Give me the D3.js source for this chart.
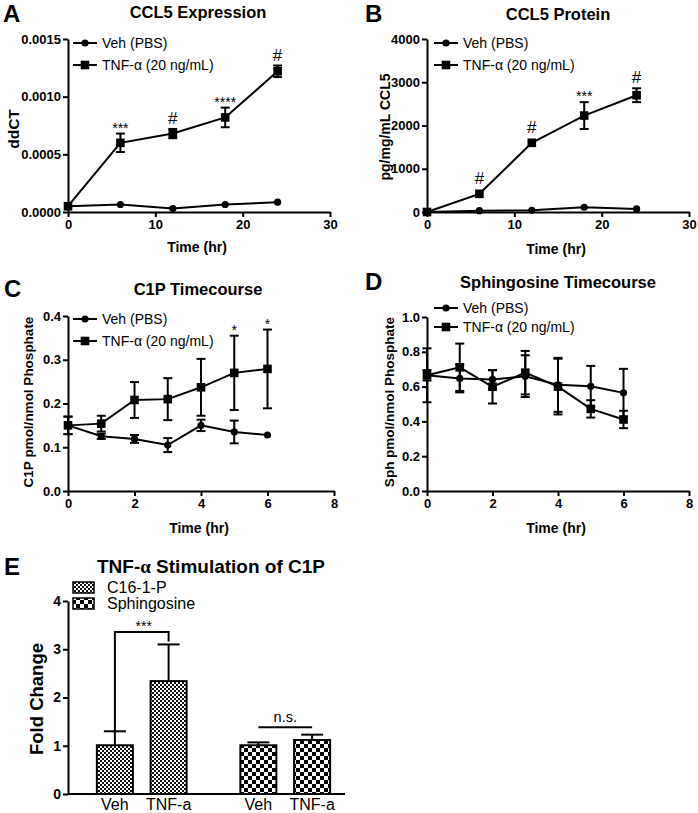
<!DOCTYPE html>
<html><head><meta charset="utf-8">
<script src="https://cdn.jsdelivr.net/npm/d3@7"></script>
<style>
body{margin:0;background:#fff;}
svg{display:block;font-family:"Liberation Sans",Arial,Helvetica,sans-serif;}
</style></head><body>
<svg id="chart" width="698" height="813"></svg>
<script>
// ---------------- DATA ----------------
const seriesNames = ["Veh (PBS)", "TNF-α (20 ng/mL)"];

// Panel A: CCL5 Expression (ddCT)
const timeAB = [0, 6, 12, 18, 24];
const exprVeh = [0.00005, 0.000065, 0.00003, 0.000065, 0.000085];
const exprVehErr = [0, 0, 0, 0, 0];
const exprTnf = [0.00005, 0.0006, 0.00068, 0.00082, 0.00122];
const exprTnfErr = [0, 0.00008, 0.00004, 0.000085, 0.00005];
const exprSig = ["", "***", "#", "****", "#"];
const exprYTicks = [0, 0.0005, 0.0010, 0.0015];
const abXTicks = [0, 10, 20, 30];

// Panel B: CCL5 Protein (pg/mg/mL)
const protVeh = [0, 30, 40, 110, 70];
const protVehErr = [0, 0, 0, 0, 0];
const protTnf = [0, 420, 1600, 2230, 2700];
const protTnfErr = [0, 0, 0, 310, 160];
const protSig = ["", "#", "#", "***", "#"];
const protYTicks = [0, 1000, 2000, 3000, 4000];

// Panel C: C1P timecourse
const timeCD = [0, 1, 2, 3, 4, 5, 6];
const c1pVeh = [0.15, 0.125, 0.119, 0.105, 0.15, 0.135, 0.128];
const c1pVehErr = [0.02, 0.006, 0.009, 0.016, 0.013, 0.026, 0];
const c1pTnf = [0.15, 0.154, 0.208, 0.21, 0.237, 0.27, 0.279];
const c1pTnfErr = [0.02, 0.018, 0.041, 0.048, 0.065, 0.085, 0.09];
const c1pSig = ["", "", "", "", "", "*", "*"];
const c1pYTicks = [0, 0.1, 0.2, 0.3, 0.4];
const cdXTicks = [0, 2, 4, 6, 8];

// Panel D: Sphingosine timecourse
const sphVeh = [0.665, 0.647, 0.641, 0.66, 0.61, 0.602, 0.564];
const sphVehErr = [0.03, 0.08, 0.053, 0.12, 0.155, 0.117, 0.138];
const sphTnf = [0.665, 0.711, 0.599, 0.68, 0.60, 0.472, 0.411];
const sphTnfErr = [0.155, 0.136, 0.096, 0.125, 0.16, 0.05, 0.05];
const sphSig = ["", "", "", "", "", "", ""];
const sphYTicks = [0, 0.2, 0.4, 0.6, 0.8, 1.0];

// Panel E: Fold change bars
const barGroups = ["C16-1-P", "Sphingosine"];
const barConds = ["Veh", "TNF-a"];
const foldC16 = [1.01, 2.34];
const foldC16Err = [0.29, 0.76];
const foldSph = [1.01, 1.12];
const foldSphErr = [0.06, 0.11];
const foldYTicks = [0, 1, 2, 3, 4];

// ---------------- DRAW ----------------
const svg = d3.select("#chart");
const defs = svg.append("defs");
const fine = defs.append("pattern").attr("id", "fine").attr("width", 4).attr("height", 4).attr("patternUnits", "userSpaceOnUse");
fine.append("rect").attr("width", 4).attr("height", 4).attr("fill", "#fff");
fine.append("rect").attr("width", 2).attr("height", 2).attr("fill", "#111");
fine.append("rect").attr("x", 2).attr("y", 2).attr("width", 2).attr("height", 2).attr("fill", "#111");
const coarse = defs.append("pattern").attr("id", "coarse").attr("width", 8).attr("height", 8).attr("patternUnits", "userSpaceOnUse");
coarse.append("rect").attr("width", 8).attr("height", 8).attr("fill", "#fff");
coarse.append("rect").attr("width", 4).attr("height", 4).attr("fill", "#000");
coarse.append("rect").attr("x", 4).attr("y", 4).attr("width", 4).attr("height", 4).attr("fill", "#000");

function styleAxis(g, fontSize) {
  g.select(".domain").attr("stroke", "#000").attr("stroke-width", 2);
  g.selectAll(".tick line").attr("stroke", "#000").attr("stroke-width", 2);
  g.selectAll(".tick text").attr("fill", "#000").attr("font-size", fontSize).attr("font-weight", "bold")
    .attr("font-family", "'Liberation Sans',Arial,sans-serif");
}

function panelLetter(txt, x, y) {
  svg.append("text").attr("x", x).attr("y", y).text(txt)
    .attr("font-size", 24).attr("font-weight", "bold");
}
function title(txt, x, y, size) {
  return svg.append("text").attr("x", x).attr("y", y).attr("text-anchor", "middle")
    .attr("font-size", size || 16.5).attr("font-weight", "bold").text(txt);
}
function yLabel(txt, x, y, size) {
  svg.append("text").attr("transform", `translate(${x},${y}) rotate(-90)`).attr("text-anchor", "middle")
    .attr("dy", "0.35em").attr("font-size", size).attr("font-weight", "bold").text(txt);
}

function drawLinePanel(o) {
  const x = d3.scaleLinear().domain(o.xDomain).range(o.xRange);
  const y = d3.scaleLinear().domain(o.yDomain).range(o.yRange);
  const g = svg.append("g");

  const xa = g.append("g").attr("transform", `translate(0,${o.yRange[0]})`)
    .call(d3.axisBottom(x).tickValues(o.xTicks).tickSize(5).tickSizeOuter(0).tickPadding(3).tickFormat(d3.format("d")));
  styleAxis(xa, 13);
  const ya = g.append("g").attr("transform", `translate(${o.xRange[0]},0)`)
    .call(d3.axisLeft(y).tickValues(o.yTicks).tickSize(5).tickSizeOuter(0).tickPadding(2).tickFormat(o.yFormat));
  styleAxis(ya, 13);

  const series = [
    {vals: o.veh, errs: o.vehErr, shape: "circle"},
    {vals: o.tnf, errs: o.tnfErr, shape: "square"}
  ];
  const line = d3.line().x((d) => x(d[0])).y((d) => y(d[1]));
  series.forEach((s) => {
    const pts = o.time.map((t, i) => [t, s.vals[i], s.errs[i]]);
    pts.filter((p) => p[2] > 0).forEach((p) => {
      const cx = x(p[0]), y1 = y(p[1] + p[2]), y2 = y(p[1] - p[2]);
      g.append("line").attr("x1", cx).attr("x2", cx).attr("y1", y1).attr("y2", y2).attr("stroke", "#000").attr("stroke-width", 2);
      [y1, y2].forEach((yy) => g.append("line").attr("x1", cx - 4.5).attr("x2", cx + 4.5).attr("y1", yy).attr("y2", yy).attr("stroke", "#000").attr("stroke-width", 2));
    });
    g.append("path").datum(pts).attr("d", line).attr("fill", "none").attr("stroke", "#000").attr("stroke-width", 2);
    pts.forEach((p) => {
      if (s.shape === "circle") g.append("circle").attr("cx", x(p[0])).attr("cy", y(p[1])).attr("r", 3.6).attr("fill", "#000");
      else g.append("rect").attr("x", x(p[0]) - 4.3).attr("y", y(p[1]) - 4.3).attr("width", 8.6).attr("height", 8.6).attr("fill", "#000");
    });
  });
  o.time.forEach((t, i) => {
    const s = o.sig[i];
    if (!s) return;
    const top = Math.min(y(o.tnf[i] + o.tnfErr[i]), y(o.tnf[i]) - 4.5);
    const isHash = s.indexOf("#") >= 0;
    g.append("text").attr("x", x(t)).attr("y", top - (isHash ? 5 : 1)).attr("text-anchor", "middle")
      .attr("font-size", isHash ? 17 : 14).text(s);
  });
  o.legendY.forEach((ly, i) => {
    const lx0 = o.legendX, lx1 = o.legendX + 24, mx = o.legendX + 12;
    g.append("line").attr("x1", lx0).attr("x2", lx1).attr("y1", ly).attr("y2", ly).attr("stroke", "#000").attr("stroke-width", 2);
    if (i === 0) g.append("circle").attr("cx", mx).attr("cy", ly).attr("r", 3.6).attr("fill", "#000");
    else g.append("rect").attr("x", mx - 4.3).attr("y", ly - 4.3).attr("width", 8.6).attr("height", 8.6).attr("fill", "#000");
    g.append("text").attr("x", lx1 + 5).attr("y", ly).attr("dy", "0.36em").attr("font-size", 14).text(seriesNames[i]);
  });
  svg.append("text").attr("x", (o.xRange[0] + o.xRange[1]) / 2 - 2).attr("y", o.xLabelY).attr("text-anchor", "middle")
    .attr("font-size", 14).attr("font-weight", "bold").text("Time (hr)");
}

// Panel A
panelLetter("A", 3, 22);
title("CCL5 Expression", 198, 18);
yLabel("ddCT", 14, 129, 15.5);
drawLinePanel({
  xDomain: [0, 30], xRange: [68, 330], yDomain: [0, 0.0015], yRange: [212, 39],
  xTicks: abXTicks, yTicks: exprYTicks, yFormat: d3.format(".4f"),
  time: timeAB, veh: exprVeh, vehErr: exprVehErr, tnf: exprTnf, tnfErr: exprTnfErr, sig: exprSig,
  legendX: 73, legendY: [43, 65], xLabelY: 252
});

// Panel B
panelLetter("B", 365, 22);
title("CCL5 Protein", 558, 20);
yLabel("pg/mg/mL CCL5", 385, 127, 14);
drawLinePanel({
  xDomain: [0, 30], xRange: [427, 689], yDomain: [0, 4000], yRange: [212, 39],
  xTicks: abXTicks, yTicks: protYTicks, yFormat: d3.format("d"),
  time: timeAB, veh: protVeh, vehErr: protVehErr, tnf: protTnf, tnfErr: protTnfErr, sig: protSig,
  legendX: 434, legendY: [43, 65], xLabelY: 254
});

// Panel C
panelLetter("C", 4, 297);
title("C1P Timecourse", 198, 295);
yLabel("C1P pmol/nmol Phosphate", 28, 402, 13.5);
drawLinePanel({
  xDomain: [0, 8], xRange: [68, 334], yDomain: [0, 0.4], yRange: [491, 316],
  xTicks: cdXTicks, yTicks: c1pYTicks, yFormat: d3.format(".1f"),
  time: timeCD, veh: c1pVeh, vehErr: c1pVehErr, tnf: c1pTnf, tnfErr: c1pTnfErr, sig: c1pSig,
  legendX: 73, legendY: [319, 341], xLabelY: 533
});

// Panel D
panelLetter("D", 365, 290);
title("Sphingosine Timecourse", 558, 288);
yLabel("Sph pmol/nmol Phosphate", 389, 402, 13.5);
drawLinePanel({
  xDomain: [0, 8], xRange: [427, 689], yDomain: [0, 1.0], yRange: [491, 317],
  xTicks: cdXTicks, yTicks: sphYTicks, yFormat: d3.format(".1f"),
  time: timeCD, veh: sphVeh, vehErr: sphVehErr, tnf: sphTnf, tnfErr: sphTnfErr, sig: sphSig,
  legendX: 434, legendY: [308, 327], xLabelY: 533
});

// Panel E
panelLetter("E", 4, 575);
const tE = title("TNF-", 211, 573, 19);
tE.append("tspan").attr("font-family", "'Liberation Serif','Times New Roman',serif").text("α");
tE.append("tspan").text(" Stimulation of C1P");
yLabel("Fold Change", 37, 699, 18.5);
{
  const yE = d3.scaleLinear().domain([0, 4]).range([794, 601]);
  const outer = d3.scaleBand().domain(barGroups).range([70, 357]);
  const inner = d3.scaleBand().domain(barConds).range([0, outer.bandwidth()]).paddingInner(0.33).paddingOuter(0.5);
  const g = svg.append("g");
  const bars = [];
  barGroups.forEach((grp, gi) => {
    const vals = gi === 0 ? foldC16 : foldSph;
    const errs = gi === 0 ? foldC16Err : foldSphErr;
    barConds.forEach((c, ci) => bars.push({grp, c, v: vals[ci], e: errs[ci],
      x0: outer(grp) + inner(c), w: inner.bandwidth(), fill: gi === 0 ? "url(#fine)" : "url(#coarse)"}));
  });
  bars.forEach((b) => {
    const cx = b.x0 + b.w / 2;
    g.append("line").attr("x1", cx).attr("x2", cx).attr("y1", yE(b.v)).attr("y2", yE(b.v + b.e)).attr("stroke", "#000").attr("stroke-width", 2);
    g.append("line").attr("x1", cx - 11).attr("x2", cx + 11).attr("y1", yE(b.v + b.e)).attr("y2", yE(b.v + b.e)).attr("stroke", "#000").attr("stroke-width", 2);
    g.append("rect").attr("x", b.x0).attr("y", yE(b.v)).attr("width", b.w).attr("height", yE(0) - yE(b.v))
      .attr("fill", b.fill).attr("stroke", "#000").attr("stroke-width", 2);
    g.append("text").attr("x", cx).attr("y", 810).attr("text-anchor", "middle").attr("font-size", 16).text(b.c);
  });
  const xa = g.append("g").attr("transform", `translate(0,${yE(0)})`)
    .call(d3.axisBottom(outer).tickSize(0).tickFormat(""));
  xa.select(".domain").attr("d", `M68,0H345`);
  styleAxis(xa, 14);
  const ya = g.append("g").attr("transform", "translate(68,0)")
    .call(d3.axisLeft(yE).tickValues(foldYTicks).tickSize(5).tickSizeOuter(0).tickPadding(2).tickFormat(d3.format("d")));
  styleAxis(ya, 14);

  const b0 = bars[0], b1 = bars[1];
  const c0 = b0.x0 + b0.w / 2, c1 = b1.x0 + b1.w / 2;
  const topY = yE(Math.max(b0.v + b0.e, b1.v + b1.e)) - 12.5;
  g.append("path").attr("d", `M${c0},${yE(b0.v + b0.e)}V${topY}H${c1}V${yE(b1.v + b1.e) - 3}`)
    .attr("fill", "none").attr("stroke", "#000").attr("stroke-width", 2);
  g.append("text").attr("x", (c0 + c1) / 2 + 2).attr("y", topY - 0.5).attr("text-anchor", "middle").attr("font-size", 14).text("***");
  const b2 = bars[2], b3 = bars[3];
  const c2 = b2.x0 + b2.w / 2, c3 = b3.x0 + b3.w / 2;
  const nsY = yE(Math.max(b2.v + b2.e, b3.v + b3.e)) - 7.5;
  g.append("line").attr("x1", c2).attr("x2", c3).attr("y1", nsY).attr("y2", nsY).attr("stroke", "#000").attr("stroke-width", 2);
  g.append("text").attr("x", (c2 + c3) / 2).attr("y", nsY - 5).attr("text-anchor", "middle").attr("font-size", 14.5).text("n.s.");

  const fills = ["url(#fine)", "url(#coarse)"];
  barGroups.forEach((grp, i) => {
    const ly = 582 + i * 16;
    g.append("rect").attr("x", 73).attr("y", ly).attr("width", 21).attr("height", 11).attr("fill", fills[i]).attr("stroke", "#000").attr("stroke-width", 1.5);
    g.append("text").attr("x", 107).attr("y", ly + 5.5).attr("dy", "0.36em").attr("font-size", 16).text(grp);
  });
}
</script>
</body></html>
